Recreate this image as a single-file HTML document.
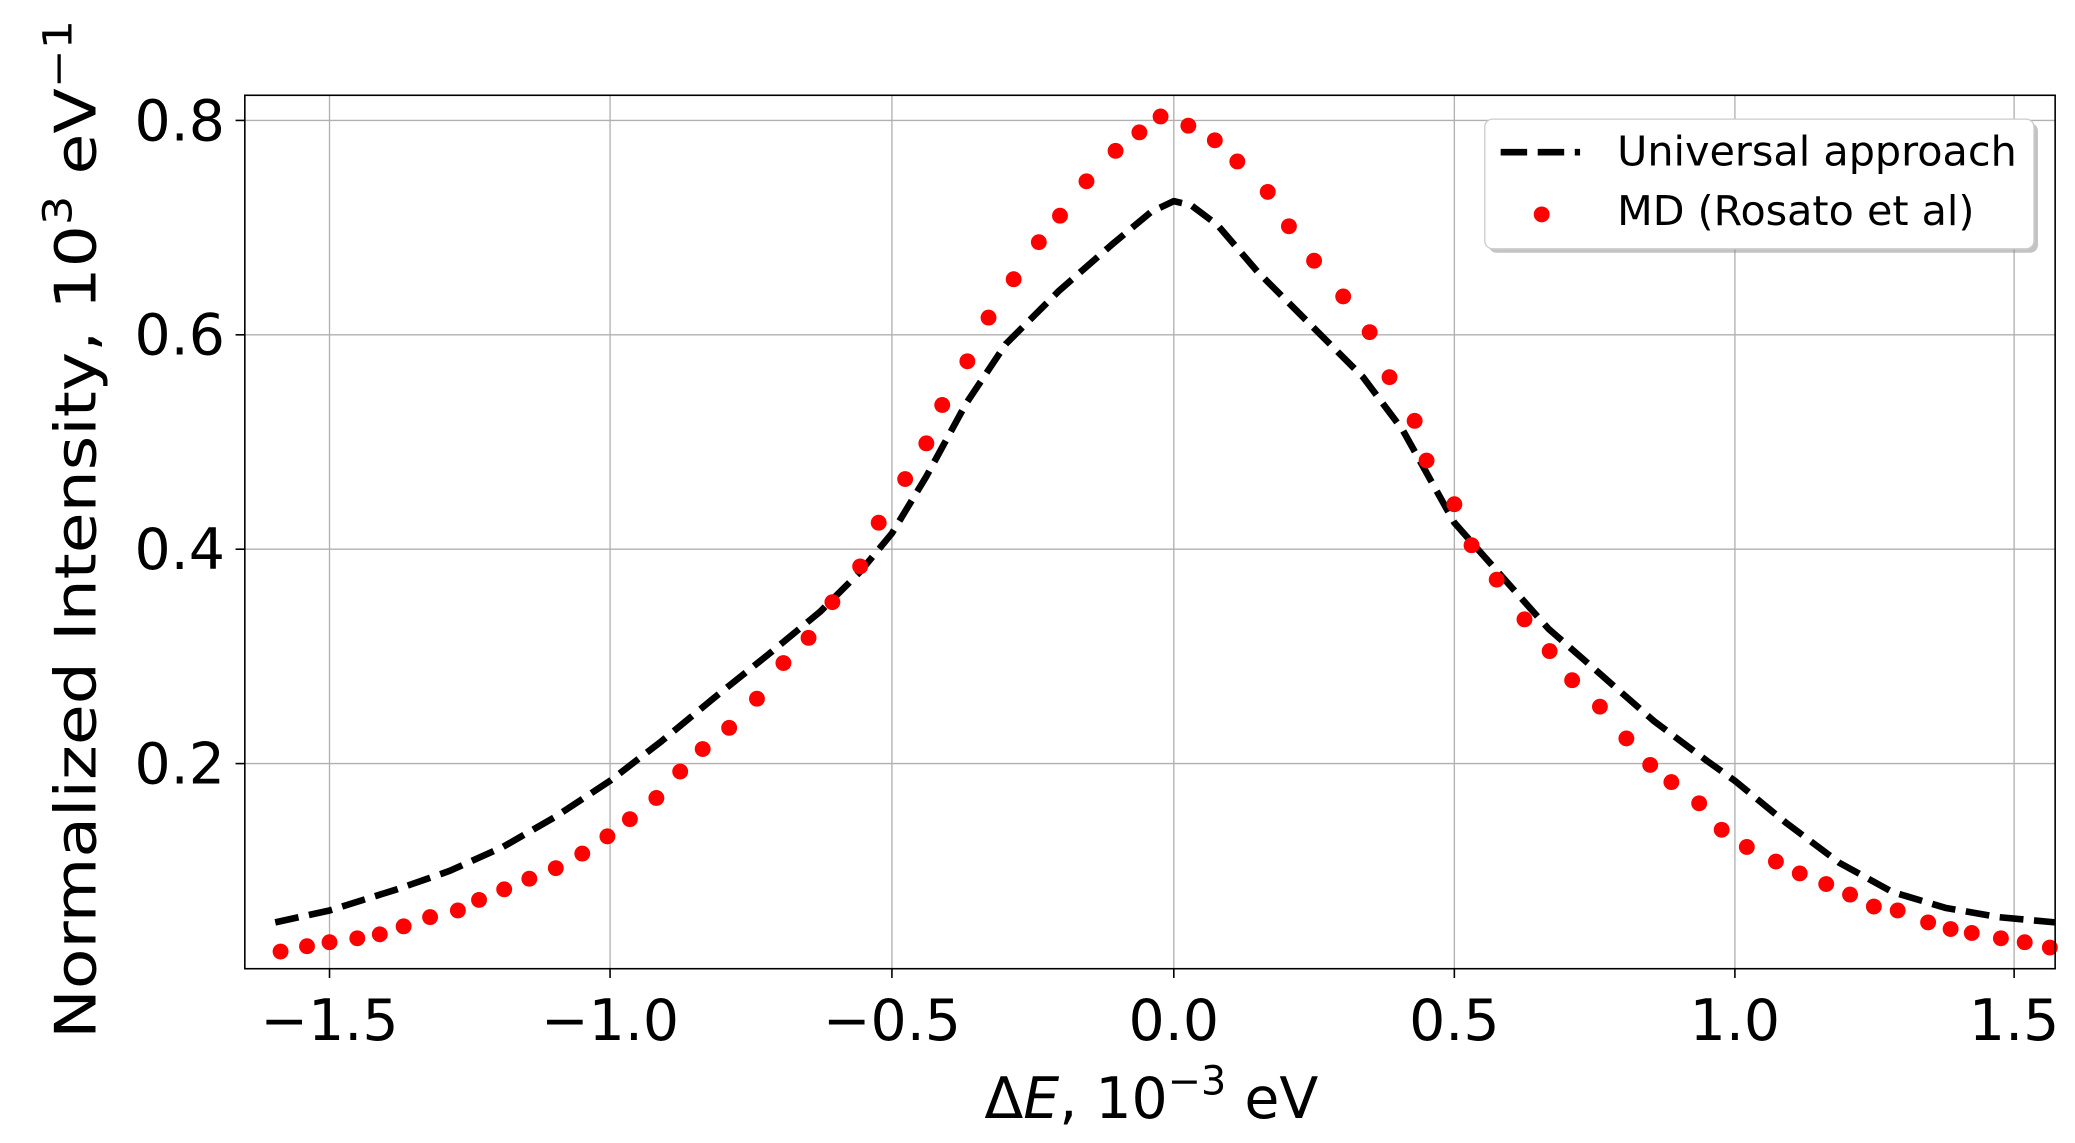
<!DOCTYPE html>
<html><head><meta charset="utf-8"><style>html,body{margin:0;padding:0;background:#fff}svg{display:block}</style></head>
<body>
<svg width="2075" height="1143" viewBox="0 0 1568 863.7" preserveAspectRatio="none" xmlns="http://www.w3.org/2000/svg" font-family="'DejaVu Sans','Liberation Sans',sans-serif">
<rect width="1568" height="864" fill="#fff"/>
<g stroke="#b0b0b0" stroke-width="1">
<line x1="249" y1="72" x2="249" y2="732"/><line x1="461" y1="72" x2="461" y2="732"/><line x1="674" y1="72" x2="674" y2="732"/><line x1="887" y1="72" x2="887" y2="732"/><line x1="1099" y1="72" x2="1099" y2="732"/><line x1="1311" y1="72" x2="1311" y2="732"/><line x1="1522" y1="72" x2="1522" y2="732"/>
<line x1="185" y1="91" x2="1553" y2="91"/><line x1="185" y1="253" x2="1553" y2="253"/><line x1="185" y1="415" x2="1553" y2="415"/><line x1="185" y1="577" x2="1553" y2="577"/>
</g>
<g stroke="#000" stroke-width="1.2">
<line x1="249" y1="732" x2="249" y2="739"/><line x1="461" y1="732" x2="461" y2="739"/><line x1="674" y1="732" x2="674" y2="739"/><line x1="887" y1="732" x2="887" y2="739"/><line x1="1099" y1="732" x2="1099" y2="739"/><line x1="1311" y1="732" x2="1311" y2="739"/><line x1="1522" y1="732" x2="1522" y2="739"/>
<line x1="178" y1="91" x2="185" y2="91"/><line x1="178" y1="253" x2="185" y2="253"/><line x1="178" y1="415" x2="185" y2="415"/><line x1="178" y1="577" x2="185" y2="577"/>
</g>
<polyline points="208,697 249,688 300,672 340,658 380,640 420,617 461,590 500,560 540,527 580,495 620,462 650,432 674,403 700,360 730,305 760,260 800,220 840,185 870,160 887,152 900,155 920,170 950,205 990,245 1030,285 1060,325 1099,395 1130,430 1170,475 1210,510 1250,545 1290,575 1311,590 1350,622 1390,652 1430,674 1470,686 1510,693 1553,697" fill="none" stroke="#000" stroke-width="5" stroke-dasharray="18,8" stroke-linejoin="round"/>
<g fill="#ff0000">
<circle cx="212" cy="719" r="6"/><circle cx="232" cy="715" r="6"/><circle cx="249" cy="712" r="6"/><circle cx="270" cy="709" r="6"/><circle cx="287" cy="706" r="6"/><circle cx="305" cy="700" r="6"/><circle cx="325" cy="693" r="6"/><circle cx="346" cy="688" r="6"/><circle cx="362" cy="680" r="6"/><circle cx="381" cy="672" r="6"/><circle cx="400" cy="664" r="6"/><circle cx="420" cy="656" r="6"/><circle cx="440" cy="645" r="6"/><circle cx="459" cy="632" r="6"/><circle cx="476" cy="619" r="6"/><circle cx="496" cy="603" r="6"/><circle cx="514" cy="583" r="6"/><circle cx="531" cy="566" r="6"/><circle cx="551" cy="550" r="6"/><circle cx="572" cy="528" r="6"/><circle cx="592" cy="501" r="6"/><circle cx="611" cy="482" r="6"/><circle cx="629" cy="455" r="6"/><circle cx="650" cy="428" r="6"/><circle cx="664" cy="395" r="6"/><circle cx="684" cy="362" r="6"/><circle cx="700" cy="335" r="6"/><circle cx="712" cy="306" r="6"/><circle cx="731" cy="273" r="6"/><circle cx="747" cy="240" r="6"/><circle cx="766" cy="211" r="6"/><circle cx="785" cy="183" r="6"/><circle cx="801" cy="163" r="6"/><circle cx="821" cy="137" r="6"/><circle cx="843" cy="114" r="6"/><circle cx="861" cy="100" r="6"/><circle cx="877" cy="88" r="6"/><circle cx="898" cy="95" r="6"/><circle cx="918" cy="106" r="6"/><circle cx="935" cy="122" r="6"/><circle cx="958" cy="145" r="6"/><circle cx="974" cy="171" r="6"/><circle cx="993" cy="197" r="6"/><circle cx="1015" cy="224" r="6"/><circle cx="1035" cy="251" r="6"/><circle cx="1050" cy="285" r="6"/><circle cx="1069" cy="318" r="6"/><circle cx="1078" cy="348" r="6"/><circle cx="1099" cy="381" r="6"/><circle cx="1112" cy="412" r="6"/><circle cx="1131" cy="438" r="6"/><circle cx="1152" cy="468" r="6"/><circle cx="1171" cy="492" r="6"/><circle cx="1188" cy="514" r="6"/><circle cx="1209" cy="534" r="6"/><circle cx="1229" cy="558" r="6"/><circle cx="1247" cy="578" r="6"/><circle cx="1263" cy="591" r="6"/><circle cx="1284" cy="607" r="6"/><circle cx="1301" cy="627" r="6"/><circle cx="1320" cy="640" r="6"/><circle cx="1342" cy="651" r="6"/><circle cx="1360" cy="660" r="6"/><circle cx="1380" cy="668" r="6"/><circle cx="1398" cy="676" r="6"/><circle cx="1416" cy="685" r="6"/><circle cx="1434" cy="688" r="6"/><circle cx="1457" cy="697" r="6"/><circle cx="1474" cy="702" r="6"/><circle cx="1490" cy="705" r="6"/><circle cx="1512" cy="709" r="6"/><circle cx="1530" cy="712" r="6"/><circle cx="1549" cy="716" r="6"/>
</g>
<rect x="185" y="72" width="1368" height="660" fill="none" stroke="#000" stroke-width="1.2"/>
<rect x="1125" y="93" width="415" height="98" rx="6" fill="#888" opacity="0.5"/>
<rect x="1122" y="90" width="415" height="98" rx="6" fill="#fff" stroke="#ccc" stroke-width="1"/>
<line x1="1134" y1="115" x2="1194" y2="115" stroke="#000" stroke-width="5" stroke-dasharray="20,8"/>
<circle cx="1165" cy="162" r="6" fill="#ff0000"/>
<g font-size="31" fill="#000">
<text x="1222" y="125" textLength="302" lengthAdjust="spacingAndGlyphs">Universal approach</text>
<text x="1222" y="170" textLength="270" lengthAdjust="spacingAndGlyphs">MD (Rosato et al)</text>
</g>
<g font-size="43" fill="#000" text-anchor="middle">
<text x="249" y="786">−1.5</text><text x="461" y="786">−1.0</text><text x="674" y="786">−0.5</text><text x="887" y="786">0.0</text><text x="1099" y="786">0.5</text><text x="1311" y="786">1.0</text><text x="1522" y="786">1.5</text>
</g>
<g font-size="43" fill="#000" text-anchor="end">
<text x="170" y="106">0.8</text><text x="170" y="268">0.6</text><text x="170" y="430">0.4</text><text x="170" y="592">0.2</text>
</g>
<text x="870" y="845" font-size="43" text-anchor="middle">Δ<tspan font-style="italic">E</tspan>, 10<tspan font-size="30" dy="-18">−3</tspan><tspan dy="18"> eV</tspan></text>
<text transform="translate(72,785) rotate(-90)" font-size="43" textLength="770" lengthAdjust="spacingAndGlyphs">Normalized Intensity, 10<tspan font-size="30" dy="-18">3</tspan><tspan dy="18"> eV</tspan><tspan font-size="30" dy="-18">−1</tspan></text>
</svg>
</body></html>
